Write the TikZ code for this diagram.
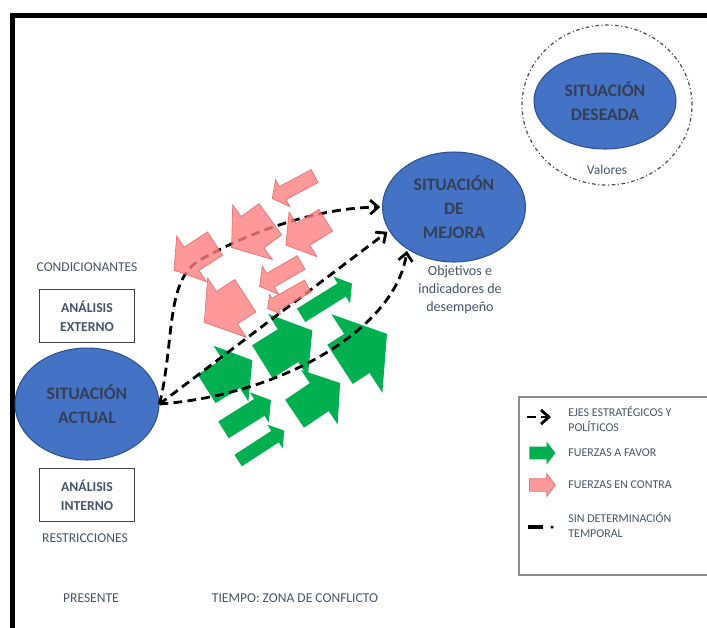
\documentclass[tikz,border=0pt]{standalone}
\usepackage{fontspec}
\setmainfont{Carlito}
\usetikzlibrary{shapes.geometric, shapes.arrows, arrows.meta}
\definecolor{azul}{RGB}{68,114,196}
\definecolor{azulborde}{RGB}{47,82,143}
\definecolor{textoelipse}{RGB}{52,62,86}
\definecolor{gris}{RGB}{68,84,106}
\definecolor{verde}{RGB}{0,176,80}
\definecolor{rojo}{RGB}{255,128,128}
\definecolor{rojoborde}{RGB}{225,95,95}
\tikzstyle{situacion} = [ellipse, minimum width=2.88cm, minimum height=2.24cm, inner sep=1pt, align=center, draw=azulborde, line width=0.6pt, fill=azul, text=textoelipse, font=\fontsize{10}{13.5}\selectfont\bfseries]
\tikzstyle{horizonte} = [ellipse, minimum width=3.4cm, minimum height=3.2cm, draw=black!70, line width=0.7pt, dash pattern=on 2pt off 1.5pt on 0.6pt off 1.5pt]
\tikzstyle{analisis} = [rectangle, minimum width=1.9cm, minimum height=1.06cm, align=center, draw=black!75, line width=0.8pt, text=gris, font=\fontsize{7.8}{10.8}\selectfont\bfseries]
\tikzstyle{etiqueta} = [inner sep=0pt, align=center, text=gris, font=\fontsize{7.7}{10}\selectfont]
\tikzstyle{leyenda} = [inner sep=0pt, align=left, anchor=west, text=gris, font=\fontsize{6.8}{8.5}\selectfont]
\tikzstyle{favor} = [single arrow, single arrow tip angle=105, fill=verde, inner xsep=0pt]
\tikzstyle{contra} = [single arrow, single arrow tip angle=105, draw=rojoborde, line width=0.4pt, fill=rojo, opacity=0.8, inner xsep=0pt]
\tikzstyle{eje} = [line width=1.6pt, dash pattern=on 5pt off 3pt, shorten >=1pt, -{Straight Barb[length=4.5pt,width=8pt]}]

\begin{document}
\begin{tikzpicture}[x=0.02cm, y=-0.02cm]
	\useasboundingbox (0,0) rectangle (707,627);
	% marco
	\draw [line width=0.1cm] (12.5,640) -- (12.5,15.5) -- (720,15.5);

	% situaciones
	\node (actual) [situacion] at (87,404) {SITUACIÓN\\ACTUAL};
	\node (externo) [analisis, above of = actual, yshift = 0.76cm] {ANÁLISIS\\EXTERNO};
	\node (interno) [analisis, below of = actual, yshift = -0.82cm] {ANÁLISIS\\INTERNO};
	\node (condicionantes) [etiqueta, above of = externo, yshift = -0.02cm] {CONDICIONANTES};
	\node (restricciones) [etiqueta, below of = interno, yshift = 0.14cm, xshift = -0.04cm] {RESTRICCIONES};
	\node (presente) [etiqueta, below of = restricciones, yshift = -0.2cm, xshift = 0.12cm] {PRESENTE};
	\node (tiempo) [etiqueta, right of = presente, xshift = 3.08cm] {TIEMPO: ZONA DE CONFLICTO};

	\node (mejora) [situacion, minimum width=2.86cm, minimum height=2.2cm] at (454,207) {SITUACIÓN\\DE\\MEJORA};
	\node (objetivos) [etiqueta, font=\fontsize{8}{10.2}\selectfont, below of = mejora, yshift = -0.66cm, xshift = 0.12cm] {Objetivos e\\indicadores de\\desempeño};
	\node (horizonte) [horizonte] at (607,105) {};
	\node (deseada) [situacion, minimum width=2.84cm, minimum height=1.92cm] at (605,101) {SITUACIÓN\\DESEADA};
	\node (valores) [etiqueta, below of = deseada, yshift = -0.38cm, xshift = 0.04cm] {Valores};

	% fuerzas a favor
	\node (f1) [favor, minimum height=1.08cm, inner ysep=0.33cm, single arrow head extend=0.32cm, rotate=32] at (224,378) {};
	\node (f2) [favor, minimum height=1.18cm, inner ysep=0.38cm, single arrow head extend=0.36cm, rotate=32] at (281,350) {};
	\node (f3) [favor, minimum height=1.12cm, inner ysep=0.46cm, single arrow head extend=0.47cm, rotate=33] at (356,354) {};
	\node (f4) [favor, minimum height=1.2cm, inner ysep=0.15cm, single arrow head extend=0.16cm, rotate=32] at (324,301) {};
	\node (f5) [favor, minimum height=1.1cm, inner ysep=0.33cm, single arrow head extend=0.32cm, rotate=34] at (312,402) {};
	\node (f6) [favor, minimum height=1.12cm, inner ysep=0.19cm, single arrow head extend=0.16cm, rotate=32] at (244,417) {};
	\node (f7) [favor, minimum height=1.1cm, inner ysep=0.13cm, single arrow head extend=0.15cm, rotate=33] at (259,447) {};

	% ejes estrategicos
	\draw [eje] (actual.east) .. controls (175,340) and (165,280) .. (200,260) .. controls (240,237) and (310,208) .. (mejora.west);
	\draw [eje] (actual.east) -- (mejora.200);
	\draw [eje] (actual.east) .. controls (280,395) and (395,330) .. (mejora.222);

	% fuerzas en contra
	\node (c1) [contra, minimum height=0.96cm, inner ysep=0.14cm, single arrow head extend=0.16cm, rotate=208] at (296,186) {};
	\node (c2) [contra, minimum height=0.98cm, inner ysep=0.27cm, single arrow head extend=0.27cm, rotate=213] at (199,254) {};
	\node (c3) [contra, minimum height=0.96cm, inner ysep=0.38cm, single arrow head extend=0.29cm, rotate=216] at (257,229) {};
	\node (c4) [contra, minimum height=0.94cm, inner ysep=0.25cm, single arrow head extend=0.27cm, rotate=212] at (310,230) {};
	\node (c5) [contra, minimum height=0.98cm, inner ysep=0.38cm, single arrow head extend=0.32cm, rotate=213] at (231,305) {};
	\node (c6) [contra, minimum height=0.96cm, inner ysep=0.15cm, single arrow head extend=0.17cm, rotate=210] at (283,273) {};
	\node (c7) [contra, minimum height=0.92cm, inner ysep=0.13cm, single arrow head extend=0.09cm, rotate=209] at (290,296) {};

	% leyenda
	\node (caja) [draw=black!45, line width=0.8pt, minimum width=4cm, minimum height=3.56cm] at (619,486) {};
	\node (ley1) [leyenda] at (568,419.5) {EJES ESTRATÉGICOS Y\\POLÍTICOS};
	\node (ley2) [leyenda] at (568,453) {FUERZAS A FAVOR};
	\node (ley3) [leyenda] at (568,485) {FUERZAS EN CONTRA};
	\node (ley4) [leyenda] at (568,525) {SIN DETERMINACIÓN\\TEMPORAL};
	\draw [eje, shorten >=0pt] ([xshift=-0.82cm, yshift=0.05cm]ley1.west) -- ([xshift=-0.34cm, yshift=0.05cm]ley1.west);
	\node (mfavor) [favor, minimum height=0.52cm, inner ysep=0.12cm, single arrow head extend=0.1cm] at ([xshift=-0.56cm]ley2.west) {};
	\node (mcontra) [contra, minimum height=0.52cm, inner ysep=0.12cm, single arrow head extend=0.1cm] at ([xshift=-0.56cm]ley3.west) {};
	\draw [line width=2.2pt] ([xshift=-0.8cm, yshift=-0.04cm]ley4.west) -- ([xshift=-0.5cm, yshift=-0.04cm]ley4.west);
	\fill ([xshift=-0.32cm, yshift=-0.04cm]ley4.west) circle (0.035cm);
\end{tikzpicture}
\end{document}
